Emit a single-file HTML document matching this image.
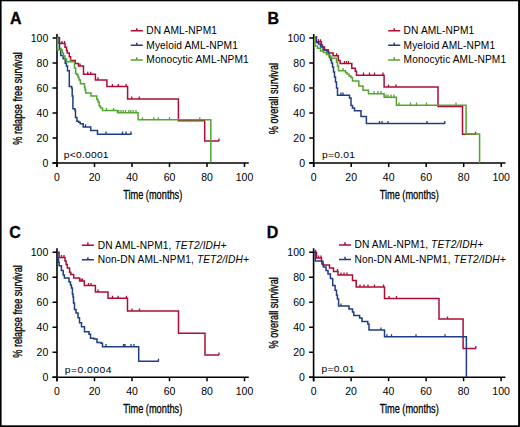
<!DOCTYPE html>
<html><head><meta charset="utf-8"><style>
html,body{margin:0;padding:0;background:#fff;}
.wrap{position:relative;width:520px;height:427px;overflow:hidden;background:#fff;}
svg{position:absolute;left:0;top:0;}
text{font-family:"Liberation Sans",sans-serif;fill:#000;}
.tk{font-size:10.5px;}
.lg{font-size:10.2px;letter-spacing:0.1px;}
.pv{font-size:9.2px;letter-spacing:0.2px;}
.ti{font-size:13px;stroke:#000;stroke-width:0.3px;}
.pl{font-size:16px;font-weight:bold;fill:#000;stroke:#000;stroke-width:0.3px;}
</style></head><body><div class="wrap">
<svg width="520" height="427" viewBox="0 0 520 427">
<rect x="0" y="0" width="1.6" height="427" fill="#000"/><rect x="0" y="0" width="520" height="1.3" fill="#000"/><rect x="518.1" y="0" width="1.9" height="427" fill="#000"/><rect x="0" y="425.3" width="520" height="1.7" fill="#000"/>
<text transform="translate(10,23.6) scale(1,1.045)" class="pl">A</text><path d="M57,34V167M52.5,163H248.8" stroke="#000" stroke-width="1.6" fill="none"/><path d="M52.5,163H57M57.0,163V167M52.5,138H57M94.5,163V167M52.5,113H57M132.0,163V167M52.5,88H57M169.5,163V167M52.5,63H57M207.0,163V167M52.5,38H57M244.5,163V167" stroke="#000" stroke-width="1.5" fill="none"/><text x="48.3" y="166.8" text-anchor="end" class="tk">0</text><text x="57.0" y="181.1" text-anchor="middle" class="tk">0</text><text x="48.3" y="141.8" text-anchor="end" class="tk">20</text><text x="94.5" y="181.1" text-anchor="middle" class="tk">20</text><text x="48.3" y="116.8" text-anchor="end" class="tk">40</text><text x="132.0" y="181.1" text-anchor="middle" class="tk">40</text><text x="48.3" y="91.8" text-anchor="end" class="tk">60</text><text x="169.5" y="181.1" text-anchor="middle" class="tk">60</text><text x="48.3" y="66.8" text-anchor="end" class="tk">80</text><text x="207.0" y="181.1" text-anchor="middle" class="tk">80</text><text x="48.3" y="41.8" text-anchor="end" class="tk">100</text><text x="244.5" y="181.1" text-anchor="middle" class="tk">100</text><text transform="translate(152.7,198.7) scale(0.71,1)" text-anchor="middle" class="ti">Time (months)</text><text transform="translate(21.5,98.5) rotate(-90) scale(0.705,1)" text-anchor="middle" class="ti">% relapse free survival</text><path d="M130.8,30.8h12M136.8,30.8v-2.6" stroke="#ad0c34" stroke-width="1.5" fill="none"/><text x="146.3" y="34.2" class="lg">DN AML-NPM1</text><path d="M130.8,45.35h12M136.8,45.35v-2.6" stroke="#1f3d82" stroke-width="1.5" fill="none"/><text x="146.3" y="48.75" class="lg">Myeloid AML-NPM1</text><path d="M130.8,59.900000000000006h12M136.8,59.900000000000006v-2.6" stroke="#52a530" stroke-width="1.5" fill="none"/><text x="146.3" y="63.300000000000004" class="lg">Monocytic AML-NPM1</text><text transform="translate(63.8,158.3) scale(1.12,1)" class="pv">p&lt;0.0001</text><path d="M57,37.5H59.5V43.5H65V47.3H66.5V50.6H67.3V53H69.3V56.8H70.6V60.5H75.3V63.4H78.4V66.1H83.5V74.3H95.4V79.9H106.9V86.6H127.6V99H178.4V120.7H204.7V141.1H219.1" stroke="#ad0c34" stroke-width="1.5" fill="none" stroke-linejoin="miter" stroke-linecap="butt"/><path d="M62,43.5v-2.6M64.5,43.5v-2.6M80,66.1v-2.6M87.8,74.3v-2.6M90.8,74.3v-2.6M98,79.9v-2.6M112.4,86.6v-2.6M118.3,86.6v-2.6M126.1,86.6v-2.6M131.7,99v-2.6M139.3,99v-2.6M219,141.1v-2.6" stroke="#ad0c34" stroke-width="1.3" fill="none"/><path d="M57,38H58V43H59.5V49H60.7V55.5H63.2V58.8H65.2V63.3H66.4V66H67.5V70.8H69.3V86.6H71.6V88H72.2V96H72.9V108.7H75V110.6H75.5V117.5H76.9V121.3H78.7V122.3H80.2V123.8H83.2V126.9H90.7V130.4H97.5V134.2H131.5" stroke="#1f3d82" stroke-width="1.5" fill="none" stroke-linejoin="miter" stroke-linecap="butt"/><path d="M85.5,126.9v-2.6M106,134.2v-2.6M122.5,134.2v-2.6M126,134.2v-2.6M131,134.2v-2.6" stroke="#1f3d82" stroke-width="1.3" fill="none"/><path d="M57,38H57.5V50H62.4V53H63.5V56H65V59H66.5V61.7H74.5V68H75.7V73.7H77V75H78.1V77.2H79V80H80.4V83.7H84.5V87.2H85V90H85.7V93H91V96H96.8V99.5H98V102H99.2V105.9H100.5V108H102.5V110.5H117.5V112.7H138.1V119.8H210.8V162.5H210.8" stroke="#52a530" stroke-width="1.5" fill="none" stroke-linejoin="miter" stroke-linecap="butt"/><path d="M61,50v-2.6M70.5,61.7v-2.6M106.5,110.5v-2.6M113.5,110.5v-2.6M118.8,112.7v-2.6M121,112.7v-2.6M123.2,112.7v-2.6M125.5,112.7v-2.6M128.8,112.7v-2.6M130.8,112.7v-2.6M133.2,112.7v-2.6M136,112.7v-2.6M142.5,119.8v-2.6M153.8,119.8v-2.6M158.4,119.8v-2.6M169.5,119.8v-2.6M199.8,119.8v-2.6" stroke="#52a530" stroke-width="1.3" fill="none"/><text transform="translate(267.5,23.8) scale(1,1.045)" class="pl">B</text><path d="M313.7,34V167M309.2,163H505.5" stroke="#000" stroke-width="1.6" fill="none"/><path d="M309.2,163H313.7M313.7,163V167M309.2,138H313.7M351.2,163V167M309.2,113H313.7M388.7,163V167M309.2,88H313.7M426.2,163V167M309.2,63H313.7M463.7,163V167M309.2,38H313.7M501.2,163V167" stroke="#000" stroke-width="1.5" fill="none"/><text x="305.0" y="166.8" text-anchor="end" class="tk">0</text><text x="313.7" y="181.1" text-anchor="middle" class="tk">0</text><text x="305.0" y="141.8" text-anchor="end" class="tk">20</text><text x="351.2" y="181.1" text-anchor="middle" class="tk">20</text><text x="305.0" y="116.8" text-anchor="end" class="tk">40</text><text x="388.7" y="181.1" text-anchor="middle" class="tk">40</text><text x="305.0" y="91.8" text-anchor="end" class="tk">60</text><text x="426.2" y="181.1" text-anchor="middle" class="tk">60</text><text x="305.0" y="66.8" text-anchor="end" class="tk">80</text><text x="463.7" y="181.1" text-anchor="middle" class="tk">80</text><text x="305.0" y="41.8" text-anchor="end" class="tk">100</text><text x="501.2" y="181.1" text-anchor="middle" class="tk">100</text><text transform="translate(409.2,198.7) scale(0.71,1)" text-anchor="middle" class="ti">Time (months)</text><text transform="translate(278.3,98.6) rotate(-90) scale(0.705,1)" text-anchor="middle" class="ti">% overall survival</text><path d="M388.2,30.8h12M394.2,30.8v-2.6" stroke="#ad0c34" stroke-width="1.5" fill="none"/><text x="403.6" y="34.2" class="lg">DN AML-NPM1</text><path d="M388.2,45.35h12M394.2,45.35v-2.6" stroke="#1f3d82" stroke-width="1.5" fill="none"/><text x="403.6" y="48.75" class="lg">Myeloid AML-NPM1</text><path d="M388.2,59.900000000000006h12M394.2,59.900000000000006v-2.6" stroke="#52a530" stroke-width="1.5" fill="none"/><text x="403.6" y="63.300000000000004" class="lg">Monocytic AML-NPM1</text><text transform="translate(322,158.2) scale(1.12,1)" class="pv">p=0.01</text><path d="M314,37H316.5V41.8H321.4V45H322.5V47H324.5V50H328.4V52.9H333.1V55.8H338.3V60.5H340.1V63.5H351.8V68.2H355.3V71.2H356.5V75.2H384.1V87H438V106.5H462.5V134.3H476" stroke="#ad0c34" stroke-width="1.5" fill="none" stroke-linejoin="miter" stroke-linecap="butt"/><path d="M318.5,41.8v-2.6M320.5,41.8v-2.6M336.6,55.8v-2.6M344.5,63.5v-2.6M346.5,63.5v-2.6M348.5,63.5v-2.6M363.5,75.2v-2.6M369.5,75.2v-2.6M374.5,75.2v-2.6M383,75.2v-2.6M388.5,87v-2.6M396,87v-2.6M475.5,134.3v-2.6" stroke="#ad0c34" stroke-width="1.3" fill="none"/><path d="M314,37H316V42.4H318.5V44.1H320.5V47H323V50H327V51.7H328.5V54.7H329.5V57.6H330.5V60H331.5V63H332.5V67H333.5V72H334.5V77H335.5V82H336.5V88H337.5V95.2H349.5V97.9H351V105.6H352.5V108H354.5V110.8H361V116.5H366.4V123.6H445.2" stroke="#1f3d82" stroke-width="1.5" fill="none" stroke-linejoin="miter" stroke-linecap="butt"/><path d="M341,95.2v-2.6M343,95.2v-2.6M379.5,123.6v-2.6M382,123.6v-2.6M388,123.6v-2.6M427,123.6v-2.6M444.8,123.6v-2.6" stroke="#1f3d82" stroke-width="1.3" fill="none"/><path d="M314,37H315V45.9H317.5V48.2H320.5V51H323.5V52.5H326.5V54.5H329V56H331V58.2H336.5V62.3H337.5V66H338.5V70.7H345.5V72.5H347V74H349V76H351V77.5H352.5V81H358.8V86H363V90.2H368.5V93.7H384.1V97.2H396.4V105.2H466.1V133.9H479.6V163H479.6" stroke="#52a530" stroke-width="1.5" fill="none" stroke-linejoin="miter" stroke-linecap="butt"/><path d="M343,70.7v-2.6M374,93.7v-2.6M378,93.7v-2.6M381,93.7v-2.6M386,97.2v-2.6M388,97.2v-2.6M391,97.2v-2.6M394,97.2v-2.6M399,105.2v-2.6M410.5,105.2v-2.6M416.5,105.2v-2.6M426.5,105.2v-2.6M456,105.2v-2.6" stroke="#52a530" stroke-width="1.3" fill="none"/><text transform="translate(9.3,238.2) scale(1,1.045)" class="pl">C</text><path d="M57,248.3V381.3M52.5,377.3H248.8" stroke="#000" stroke-width="1.6" fill="none"/><path d="M52.5,377.3H57M57.0,377.3V381.3M52.5,352.3H57M94.5,377.3V381.3M52.5,327.3H57M132.0,377.3V381.3M52.5,302.3H57M169.5,377.3V381.3M52.5,277.3H57M207.0,377.3V381.3M52.5,252.3H57M244.5,377.3V381.3" stroke="#000" stroke-width="1.5" fill="none"/><text x="48.3" y="381.1" text-anchor="end" class="tk">0</text><text x="57.0" y="395.40000000000003" text-anchor="middle" class="tk">0</text><text x="48.3" y="356.1" text-anchor="end" class="tk">20</text><text x="94.5" y="395.40000000000003" text-anchor="middle" class="tk">20</text><text x="48.3" y="331.1" text-anchor="end" class="tk">40</text><text x="132.0" y="395.40000000000003" text-anchor="middle" class="tk">40</text><text x="48.3" y="306.1" text-anchor="end" class="tk">60</text><text x="169.5" y="395.40000000000003" text-anchor="middle" class="tk">60</text><text x="48.3" y="281.1" text-anchor="end" class="tk">80</text><text x="207.0" y="395.40000000000003" text-anchor="middle" class="tk">80</text><text x="48.3" y="256.1" text-anchor="end" class="tk">100</text><text x="244.5" y="395.40000000000003" text-anchor="middle" class="tk">100</text><text transform="translate(152.7,412.8) scale(0.71,1)" text-anchor="middle" class="ti">Time (months)</text><text transform="translate(21.5,311.5) rotate(-90) scale(0.705,1)" text-anchor="middle" class="ti">% relapse free survival</text><path d="M81.9,245.2h12M87.9,245.2v-2.6" stroke="#ad0c34" stroke-width="1.5" fill="none"/><text x="97.8" y="248.6" class="lg">DN AML-NPM1, <tspan font-style="italic">TET2/IDH+</tspan></text><path d="M81.9,259.75h12M87.9,259.75v-2.6" stroke="#1f3d82" stroke-width="1.5" fill="none"/><text x="97.8" y="263.15" class="lg">Non-DN AML-NPM1, <tspan font-style="italic">TET2/IDH+</tspan></text><text transform="translate(64.8,373.3) scale(1.12,1)" class="pv" style="letter-spacing:0.45px">p=0.0004</text><path d="M57,252.3H59.1V257.5H65V261H66.1V264.6H67.3V268.1H69.6V272.2H70.8V274.5H73.7V278H79.6V281H84.3V285.5H95.4V292H108V298.3H127.5V311.1H178.5V333.2H205V355H219" stroke="#ad0c34" stroke-width="1.5" fill="none" stroke-linejoin="miter" stroke-linecap="butt"/><path d="M61.5,257.5v-2.6M64,257.5v-2.6M81,281v-2.6M82.5,281v-2.6M88.5,285.5v-2.6M91,285.5v-2.6M98,292v-2.6M112.5,298.3v-2.6M118,298.3v-2.6M126.5,298.3v-2.6M132,311.1v-2.6M139.5,311.1v-2.6M219,355v-2.6" stroke="#ad0c34" stroke-width="1.3" fill="none"/><path d="M57,252.3H57.8V258H58.5V262H59.1V265.7H61.4V270.4H63.2V275.1H64.4V278H69V282H70.5V285H71.4V288H72.4V294H73V297H73.5V303H74.5V309.6H76V312.9H78V317.8H79.5V322.7H81.5V326.8H84.5V331.7H89V334.2H90.5V338.3H94V339.1H97V342.4H101V343.2H102.5V346.7H138.7V361.3H158.8" stroke="#1f3d82" stroke-width="1.5" fill="none" stroke-linejoin="miter" stroke-linecap="butt"/><path d="M106,346.7v-2.6M123.5,346.7v-2.6M125,346.7v-2.6M131,346.7v-2.6M134,346.7v-2.6M158.5,361.3v-2.6" stroke="#1f3d82" stroke-width="1.3" fill="none"/><text transform="translate(266.7,238.1) scale(1,1.045)" class="pl">D</text><path d="M313.6,248.3V381.3M309.1,377.3H505.40000000000003" stroke="#000" stroke-width="1.6" fill="none"/><path d="M309.1,377.3H313.6M313.6,377.3V381.3M309.1,352.3H313.6M351.1,377.3V381.3M309.1,327.3H313.6M388.6,377.3V381.3M309.1,302.3H313.6M426.1,377.3V381.3M309.1,277.3H313.6M463.6,377.3V381.3M309.1,252.3H313.6M501.1,377.3V381.3" stroke="#000" stroke-width="1.5" fill="none"/><text x="304.90000000000003" y="381.1" text-anchor="end" class="tk">0</text><text x="313.6" y="395.40000000000003" text-anchor="middle" class="tk">0</text><text x="304.90000000000003" y="356.1" text-anchor="end" class="tk">20</text><text x="351.1" y="395.40000000000003" text-anchor="middle" class="tk">20</text><text x="304.90000000000003" y="331.1" text-anchor="end" class="tk">40</text><text x="388.6" y="395.40000000000003" text-anchor="middle" class="tk">40</text><text x="304.90000000000003" y="306.1" text-anchor="end" class="tk">60</text><text x="426.1" y="395.40000000000003" text-anchor="middle" class="tk">60</text><text x="304.90000000000003" y="281.1" text-anchor="end" class="tk">80</text><text x="463.6" y="395.40000000000003" text-anchor="middle" class="tk">80</text><text x="304.90000000000003" y="256.1" text-anchor="end" class="tk">100</text><text x="501.1" y="395.40000000000003" text-anchor="middle" class="tk">100</text><text transform="translate(409.2,412.8) scale(0.71,1)" text-anchor="middle" class="ti">Time (months)</text><text transform="translate(278.3,312.8) rotate(-90) scale(0.705,1)" text-anchor="middle" class="ti">% overall survival</text><path d="M339,244.9h12M345,244.9v-2.6" stroke="#ad0c34" stroke-width="1.5" fill="none"/><text x="354.5" y="248.3" class="lg">DN AML-NPM1, <tspan font-style="italic">TET2/IDH+</tspan></text><path d="M339,259.45h12M345,259.45v-2.6" stroke="#1f3d82" stroke-width="1.5" fill="none"/><text x="354.5" y="262.84999999999997" class="lg">Non-DN AML-NPM1, <tspan font-style="italic">TET2/IDH+</tspan></text><text transform="translate(321.5,371.9) scale(1.12,1)" class="pv">p=0.01</text><path d="M314,252.3H316.5V258H321.5V261.6H323V265.1H329.5V268.1H333.5V271.6H338V275H352.5V280.5H356.2V287H384.5V298.6H439V319H463.1V348.6H476.2" stroke="#ad0c34" stroke-width="1.5" fill="none" stroke-linejoin="miter" stroke-linecap="butt"/><path d="M315.5,252.3v-2.6M318.5,258v-2.6M321,258v-2.6M337.5,271.6v-2.6M341,275v-2.6M344,275v-2.6M347,275v-2.6M360,287v-2.6M364,287v-2.6M368,287v-2.6M374.5,287v-2.6M383.5,287v-2.6M389,298.6v-2.6M396.5,298.6v-2.6M447.5,319v-2.6M475.8,348.6v-2.6" stroke="#ad0c34" stroke-width="1.3" fill="none"/><path d="M314,252.3H315.3V261H322V264H323.4V267H326V270.5H328V274H330.4V278.6H332.7V285.6H335.1V290.3H336.5V295H337.4V299H338.6V306H349V309H352.5V312H353.8V315.5H359.6V318H362V321.5H367.8V324H369V330H384.5V336.8H466.4V377.3H466.4" stroke="#1f3d82" stroke-width="1.5" fill="none" stroke-linejoin="miter" stroke-linecap="butt"/><path d="M341,306v-2.6M381,330v-2.6M387,336.8v-2.6M391.5,336.8v-2.6M416,336.8v-2.6M445,336.8v-2.6" stroke="#1f3d82" stroke-width="1.3" fill="none"/>
</svg></div></body></html>
